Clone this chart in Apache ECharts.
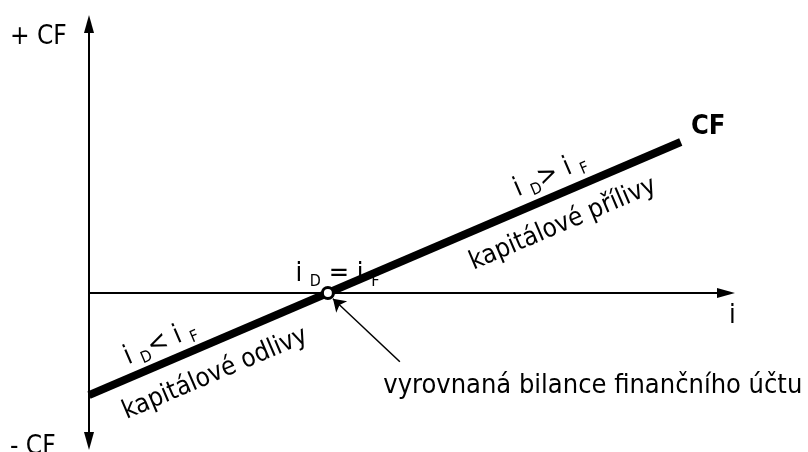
<!DOCTYPE html>
<html>
<head>
<meta charset="utf-8">
<script src="https://cdn.jsdelivr.net/npm/echarts@6/dist/echarts.min.js"></script>
<style>
  html, body { margin: 0; background: #fff; }
  #main { width: 808px; height: 452px; }
</style>
</head>
<body>
<div id="main"></div>
<script>
// osa i: 0..10, osa CF: -3.55..6.45 (bez popisků)
const cfLine = [[0, -2.45], [9.29, 3.62]];
const balancePoint = [[3.75, 0]];
const pointer = [[4.88, -1.65], [3.83, -0.14]];

// popisky: [x, y] v datech
const lblEqual = [3.90, 0.46];
const lblLess = [1.12, -1.20];
const lblOut = [1.98, -1.94];
const lblMore = [7.24, 2.83];
const lblIn = [7.44, 1.65];
const lblCF = [9.45, 3.98];
const lblI = [10.1, -0.55];
const lblBalance = [4.62, -2.23];

const font = '"DejaVu Sans Condensed", "DejaVu Sans"';
const sub = (a, op, b) => '{m|' + a + ' }{s|D}{m|' + op + ' ' + b + ' }{s|F}';
const richSub = {
  m: { fontSize: 27, fontFamily: font, fill: '#000', lineHeight: 32 },
  s: { fontSize: 16, fontFamily: font, fill: '#000', verticalAlign: 'bottom', lineHeight: 30 }
};

const chart = echarts.init(document.getElementById('main'));
const axisLine = { color: '#000', width: 2 };
chart.setOption({
  animation: false,
  grid: { left: 89, right: 82, top: 24, bottom: 11, outerBoundsMode: 'none' },
  xAxis: {
    type: 'value', min: 0, max: 10,
    axisLine: { show: true, onZero: true, symbol: ['none', 'triangle'], symbolSize: [10, 18], lineStyle: axisLine },
    axisTick: { show: false }, axisLabel: { show: false }, splitLine: { show: false }
  },
  yAxis: {
    type: 'value', min: -3.55, max: 6.45,
    axisLine: { show: true, symbol: ['triangle', 'triangle'], symbolSize: [10, 18], lineStyle: axisLine },
    axisTick: { show: false }, axisLabel: { show: false }, splitLine: { show: false }
  },
  series: [
    {
      type: 'line', data: cfLine, symbol: 'none', silent: true,
      lineStyle: { color: '#000', width: 8, cap: 'butt' }, z: 3
    },
    {
      type: 'lines', coordinateSystem: 'cartesian2d', silent: true,
      data: [{ coords: pointer }],
      symbol: ['none', 'arrow'], symbolSize: 12,
      lineStyle: { color: '#000', width: 1.5, opacity: 1 }, z: 2
    },
    {
      type: 'scatter', data: balancePoint, symbol: 'circle', symbolSize: 11, silent: true,
      itemStyle: { color: '#fff', borderColor: '#000', borderWidth: 3, opacity: 1 }, z: 5
    }
  ]
});

const px = p => chart.convertToPixel({ gridIndex: 0 }, p);
const a = px(cfLine[0]), b = px(cfLine[1]);
const angle = Math.atan2(a[1] - b[1], b[0] - a[0]);

function txt(pos, text, opts) {
  const p = px(pos);
  return Object.assign({
    type: 'text', x: p[0], y: p[1], silent: true,
    style: Object.assign({ text: text, fontSize: 27, fontFamily: font, fill: '#000', align: 'center', verticalAlign: 'middle' }, opts.style || {})
  }, opts.el || {});
}

chart.setOption({
  graphic: [
    { type: 'text', x: 10, y: 37, style: { text: '+ CF', fontSize: 26, fontFamily: font, fill: '#000', verticalAlign: 'middle' } },
    { type: 'text', x: 10, y: 447, style: { text: '- CF', fontSize: 26, fontFamily: font, fill: '#000', verticalAlign: 'middle' } },
    txt(lblI, 'i', {}),
    txt(lblCF, 'CF', { style: { align: 'left', fontWeight: 'bold' } }),
    txt(lblBalance, 'vyrovnaná bilance finančního účtu', { style: { align: 'left' } }),
    txt(lblEqual, sub('i', ' =', 'i'), { style: { rich: richSub } }),
    txt(lblLess, sub('i', '<', 'i'), { style: { rich: richSub }, el: { rotation: angle } }),
    txt(lblMore, sub('i', '>', 'i'), { style: { rich: richSub }, el: { rotation: angle } }),
    txt(lblOut, 'kapitálové odlivy', { style: { fontSize: 26 }, el: { rotation: angle } }),
    txt(lblIn, 'kapitálové přílivy', { style: { fontSize: 26 }, el: { rotation: angle } })
  ]
});
</script>
</body>
</html>
